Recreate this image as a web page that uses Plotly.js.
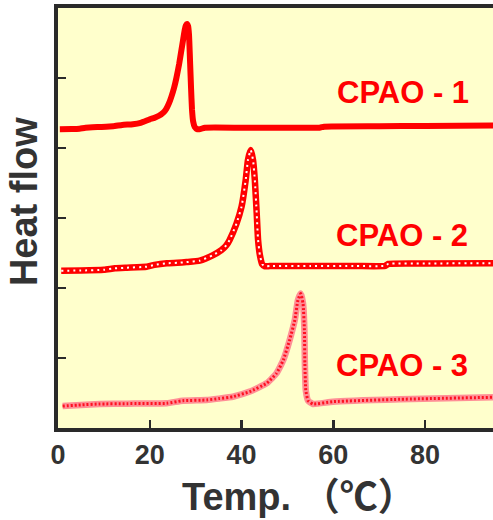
<!DOCTYPE html>
<html>
<head>
<meta charset="utf-8">
<script src="https://cdn.plot.ly/plotly-3.0.1.min.js"></script>
<style>html,body{margin:0;padding:0;background:#fff;}#chart{width:493px;height:520px;}</style>
</head>
<body>
<div id="chart"></div>
<script>
// Temperature (°C) and heat flow (arbitrary, offset) for each sample
var t1 = [0.4, 3, 4.7, 6, 9.1, 12, 14, 16.3, 18, 20.0, 21.0, 22.0, 23.0, 23.6, 24.2, 24.7, 25.3, 25.8, 26.4, 26.9, 27.3, 27.6, 27.85, 28.1, 28.35, 28.55, 28.8, 29.0, 29.2, 29.45, 29.8, 30.3, 31.0, 32.0, 40, 50, 57, 58, 70, 80, 94.8];
var h1 = [4.267, 4.27, 4.276, 4.29, 4.30, 4.31, 4.33, 4.34, 4.36, 4.41, 4.43, 4.46, 4.51, 4.56, 4.64, 4.73, 4.86, 5.00, 5.20, 5.40, 5.56, 5.68, 5.75, 5.77, 5.74, 5.62, 5.20, 4.85, 4.55, 4.38, 4.30, 4.27, 4.27, 4.29, 4.29, 4.29, 4.29, 4.305, 4.31, 4.315, 4.32];

var t2 = [0.7, 5, 10, 12.4, 15, 19.3, 21, 23.7, 26, 28, 30.9, 33.8, 35.6, 36.7, 37.4, 38.9, 40.0, 40.9, 41.4, 42.0, 42.5, 42.9, 43.3, 43.6, 44.0, 44.5, 45.1, 46.2, 55, 65, 71.3, 72, 80, 94.8];
var h2 = [2.247, 2.25, 2.26, 2.281, 2.29, 2.304, 2.33, 2.353, 2.36, 2.37, 2.39, 2.47, 2.54, 2.61, 2.686, 2.92, 3.16, 3.54, 3.83, 3.97, 3.83, 3.54, 3.07, 2.69, 2.47, 2.34, 2.31, 2.314, 2.314, 2.314, 2.316, 2.345, 2.35, 2.355];

var t3 = [1.0, 5, 9.1, 15, 23.7, 27.2, 32.4, 35, 38.1, 41.8, 45.5, 47.6, 49.1, 50.5, 51.6, 52.3, 52.9, 53.4, 53.7, 53.8, 54.0, 54.5, 55.6, 59.9, 74.5, 94.8];
var h3 = [0.314, 0.33, 0.343, 0.348, 0.353, 0.39, 0.40, 0.42, 0.447, 0.52, 0.64, 0.78, 0.97, 1.26, 1.54, 1.83, 1.92, 1.78, 1.40, 0.92, 0.54, 0.39, 0.343, 0.376, 0.41, 0.439];

var names = ["CPAO - 1", "CPAO - 2", "CPAO - 3"];
var labelX = [75.2, 74.9, 74.9];
var labelY = [4.79, 2.746, 0.889];
var xTicks = [0, 20, 40, 60, 80];
var yTicks = [1, 2, 3, 4, 5];
var xTitle = "Temp. （℃）";
var yTitle = "Heat flow";

var fam = "'Liberation Sans', Arial, 'Noto Sans CJK JP', sans-serif";

var traces = [
  {x: t1, y: h1, mode: "lines", line: {color: "#ff0000", width: 6, shape: "spline", smoothing: 0.4}, hoverinfo: "none"},
  {x: t2, y: h2, mode: "lines", line: {color: "#ff0000", width: 6.5, shape: "spline", smoothing: 0.4}, hoverinfo: "none"},
  {x: t2, y: h2, mode: "lines", line: {color: "#ffffff", width: 2, dash: "2px,4px", shape: "spline", smoothing: 0.4}, hoverinfo: "none"},
  {x: t3, y: h3, mode: "lines", line: {color: "#ff8f96", width: 6.5, shape: "spline", smoothing: 0.4}, hoverinfo: "none"},
  {x: t3, y: h3, mode: "lines", line: {color: "#ff1020", width: 3, dash: "2px,2px", shape: "spline", smoothing: 0.4}, hoverinfo: "none"}
];

var annotations = names.map(function(n, i) {
  return {x: labelX[i], y: labelY[i], xref: "x", yref: "y", text: n, showarrow: false,
    font: {family: fam, size: 31, color: "#ff0000", weight: "bold"}};
});
annotations.push({x: -0.078, y: 0.538, xref: "paper", yref: "paper", text: yTitle, textangle: -90,
  xanchor: "center", yanchor: "middle",
  showarrow: false, font: {family: fam, size: 38, color: "#333333", weight: "bold"}});
annotations.push({x: 0.553, y: -0.164, xref: "paper", yref: "paper", text: xTitle,
  xanchor: "center", yanchor: "middle",
  showarrow: false, font: {family: fam, size: 38, color: "#333333", weight: "bold"}});

var layout = {
  width: 493, height: 520,
  margin: {l: 58, r: 0, t: 8, b: 92},
  paper_bgcolor: "#ffffff",
  plot_bgcolor: "#ffffcc",
  showlegend: false,
  annotations: annotations,
  xaxis: {
    range: [0, 94.8], tickvals: xTicks, ticktext: xTicks.map(String),
    ticks: "inside", ticklen: 8, tickwidth: 2.5, tickcolor: "#2a2a2a",
    showline: true, linecolor: "#2a2a2a", linewidth: 4, mirror: true,
    showgrid: false, zeroline: false,
    tickfont: {family: fam, size: 27, color: "#333333", weight: "bold"}
  },
  yaxis: {
    range: [0, 6], tickvals: yTicks, showticklabels: false,
    ticks: "inside", ticklen: 8, tickwidth: 2.5, tickcolor: "#2a2a2a",
    showline: true, linecolor: "#2a2a2a", linewidth: 4, mirror: true,
    showgrid: false, zeroline: false
  }
};

Plotly.newPlot("chart", traces, layout, {staticPlot: true, displayModeBar: false});
</script>
</body>
</html>
